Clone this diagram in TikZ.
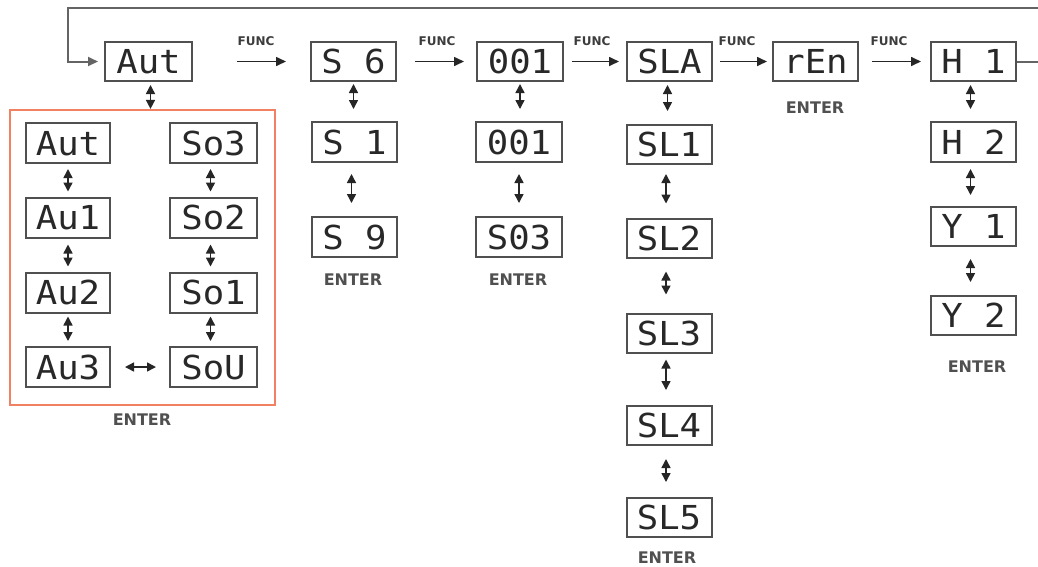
\documentclass[tikz,border=0pt]{standalone}
\usepackage{fontspec}
\usepackage{graphicx}
\usetikzlibrary{arrows.meta}
\newfontfamily\segfont[FakeStretch=1.08]{DejaVu Sans Mono}
\newfontfamily\lblfont{DejaVu Sans}
\definecolor{boxgray}{RGB}{80,80,80}
\definecolor{segcol}{RGB}{40,40,40}
\definecolor{lblgray}{RGB}{60,60,60}
\definecolor{entgray}{RGB}{80,80,80}
\definecolor{loopgray}{RGB}{100,100,100}
\definecolor{orangebox}{RGB}{242,128,98}
\tikzset{
  disp/.style={draw=boxgray, line width=2pt, minimum width=85pt, minimum height=39pt,
    inner sep=0pt, text height=24pt, text depth=0pt,
    font=\segfont\fontsize{33}{33}\selectfont, text=segcol},
  funclbl/.style={font=\lblfont\bfseries\fontsize{12}{12}\selectfont, text=lblgray},
  enterlbl/.style={font=\lblfont\bfseries\fontsize{16}{16}\selectfont, text=entgray},
  farr/.style={-{Triangle[length=10pt,width=9pt]}, line width=1.6pt, draw=black!85},
  darr/.style={{Triangle[length=9pt,width=9pt]}-{Triangle[length=9pt,width=9pt]}, line width=1.5pt, draw=black!85},
  loopline/.style={line width=2pt, draw=loopgray},
  groupbox/.style={draw=orangebox, line width=2.2pt}
}
\begin{document}
\begin{tikzpicture}[x=1pt,y=-1pt]
\path[use as bounding box] (0,0) rectangle (1038,566);
\clip (0,0) rectangle (1038,566);

% top row
\node[disp, minimum width=87pt] (aut) at (148.5,61.5) {Aut};
\node[disp] (s6) at (353.5,61.5) {S 6};
\node[disp, minimum width=86pt] (c001) at (520,61.5) {001};
\node[disp] (sla) at (669.5,61.5) {SLA};
\node[disp] (ren) at (815.5,61.5) {rEn};
\node[disp] (h1) at (973.5,61.5) {H 1};

% FUNC labels
\node[funclbl] (f1) at (256,41) {FUNC};
\node[funclbl] (f2) at (437,41) {FUNC};
\node[funclbl] (f3) at (592,41) {FUNC};
\node[funclbl] (f4) at (737,41) {FUNC};
\node[funclbl] (f5) at (889,41) {FUNC};

% FUNC arrows
\draw[farr, shorten <=44pt, shorten >=24pt] (aut) -- (s6);
\draw[farr, shorten <=18pt, shorten >=12pt] (s6) -- (c001);
\draw[farr, shorten <=8pt, shorten >=7pt] (c001) -- (sla);
\draw[farr, shorten <=7pt, shorten >=5pt] (sla) -- (ren);
\draw[farr, shorten <=13pt, shorten >=9pt] (ren) -- (h1);

% loop line
\coordinate (rr) at (1060,8);
\coordinate (ll) at (68,8);
\draw[loopline, -{Triangle[length=10pt,width=9pt]}, shorten >=6pt] (h1.east) -| (rr) -- (ll) |- (aut.west);

% orange group
\node[groupbox, minimum width=265pt, minimum height=295pt, inner sep=0pt] (grp) at (142.5,257.5) {};
\node[disp, minimum width=84pt, minimum height=40pt] (av0) at (68,143) {Aut};
\node[disp, minimum width=84pt, minimum height=40pt] (av1) at (68,217.5) {Au1};
\node[disp, minimum width=84pt, minimum height=40pt] (av2) at (68,292.5) {Au2};
\node[disp, minimum width=84pt, minimum height=40pt] (av3) at (68,367) {Au3};
\node[disp, minimum width=87pt, minimum height=40pt] (so3) at (213.5,143) {So3};
\node[disp, minimum width=87pt, minimum height=40pt] (so2) at (213.5,217.5) {So2};
\node[disp, minimum width=87pt, minimum height=40pt] (so1) at (213.5,292.5) {So1};
\node[disp, minimum width=87pt, minimum height=40pt] (sou) at (213.5,367) {SoU};
\node[enterlbl] (e1) at (142,420) {ENTER};

\draw[darr, shorten <=3pt, shorten >=0pt] ([xshift=2pt]aut.south) -- ([xshift=2pt]aut.south |- grp.north);
\draw[darr, shorten <=5pt, shorten >=5pt] (av0) -- (av1);
\draw[darr, shorten <=6pt, shorten >=5pt] (av1) -- (av2);
\draw[darr, shorten <=3pt, shorten >=5pt] (av2) -- (av3);
\draw[darr, shorten <=5pt, shorten >=5pt] ([xshift=-3pt]so3.south) -- ([xshift=-3pt]so2.north);
\draw[darr, shorten <=6pt, shorten >=5pt] ([xshift=-3pt]so2.south) -- ([xshift=-3pt]so1.north);
\draw[darr, shorten <=3pt, shorten >=5pt] ([xshift=-3pt]so1.south) -- ([xshift=-3pt]sou.north);
\draw[darr, shorten <=14pt, shorten >=13pt] (av3) -- (sou);

% S column
\node[disp, minimum height=40pt] (s1) at (354.5,142) {S  1};
\node[disp, minimum height=40pt] (s9) at (354.5,237) {S 9};
\node[enterlbl] (e2) at (353,280) {ENTER};
\draw[darr, shorten <=2pt, shorten >=12pt] (s6) -- (s6 |- s1.north);
\draw[darr, shorten <=11pt, shorten >=13pt] ([xshift=-3pt]s1.south) -- ([xshift=-3pt]s9.north);

% 001 column
\node[disp, minimum width=86pt, minimum height=40pt] (d001) at (519,142) {001};
\node[disp, minimum width=86pt, minimum height=40pt] (s03) at (519,237) {S03};
\node[enterlbl] (e3) at (518,280) {ENTER};
\draw[darr, shorten <=2pt, shorten >=12pt] (c001.south) -- (c001.south |- d001.north);
\draw[darr, shorten <=11pt, shorten >=13pt] (d001) -- (s03);

% ren enter
\node[enterlbl] (e4) at (815,108) {ENTER};

% SL column
\node[disp] (sl1) at (669,144.5) {SL1};
\node[disp] (sl2) at (669,238) {SL2};
\node[disp] (sl3) at (669,333) {SL3};
\node[disp] (sl4) at (669,425.5) {SL4};
\node[disp] (sl5) at (669,517.5) {SL5};
\node[enterlbl] (e5) at (667,558) {ENTER};
\draw[darr, shorten <=3pt, shorten >=13pt] ([xshift=-2pt]sla.south) -- ([xshift=-2pt]sla.south |- sl1.north);
\draw[darr, shorten <=9pt, shorten >=14pt] ([xshift=-3pt]sl1.south) -- ([xshift=-3pt]sl2.north);
\draw[darr, shorten <=13pt, shorten >=18pt] ([xshift=-3pt]sl2.south) -- ([xshift=-3pt]sl3.north);
\draw[darr, shorten <=6pt, shorten >=15pt] ([xshift=-3pt]sl3.south) -- ([xshift=-3pt]sl4.north);
\draw[darr, shorten <=13pt, shorten >=15pt] ([xshift=-3pt]sl4.south) -- ([xshift=-3pt]sl5.north);

% H column
\node[disp, minimum height=40pt] (h2) at (973.5,142) {H 2};
\node[disp] (y1) at (973.5,226.5) {Y 1};
\node[disp] (y2) at (973.5,315.5) {Y 2};
\node[enterlbl] (e6) at (977,367) {ENTER};
\draw[darr, shorten <=3pt, shorten >=12pt] ([xshift=-3pt]h1.south) -- ([xshift=-3pt]h2.north);
\draw[darr, shorten <=6pt, shorten >=11pt] ([xshift=-3pt]h2.south) -- ([xshift=-3pt]y1.north);
\draw[darr, shorten <=12pt, shorten >=13pt] ([xshift=-3pt]y1.south) -- ([xshift=-3pt]y2.north);
\end{tikzpicture}
\end{document}
